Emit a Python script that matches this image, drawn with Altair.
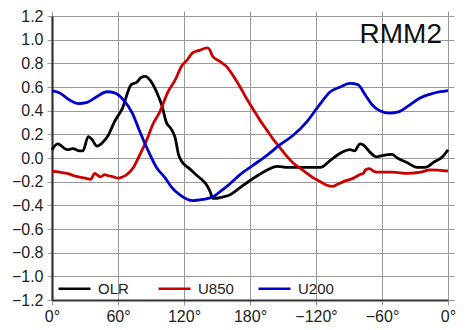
import altair as alt
import pandas as pd

# ---- data ----
olr_lon = [0, 5, 14, 19, 25, 28, 33, 36, 41, 46, 51, 57, 64, 72, 77, 81, 85, 89, 95, 100,
           104, 108, 112, 115, 118, 125, 132, 137, 140, 144, 146, 150, 155, 162, 171, 180,
           192, 205, 214, 223, 232, 244, 253, 262, 271, 275, 280, 283, 289, 295, 300, 309,
           314, 323, 332, 339, 348, 355, 360]
olr_val = [0.07, 0.12, 0.07, 0.08, 0.06, 0.06, 0.18, 0.16, 0.10, 0.13, 0.19, 0.31, 0.42, 0.62,
           0.64, 0.68, 0.69, 0.66, 0.56, 0.44, 0.30, 0.25, 0.17, 0.03, -0.03, -0.09, -0.15,
           -0.19, -0.22, -0.29, -0.34, -0.34, -0.33, -0.31, -0.25, -0.19, -0.12, -0.07, -0.08,
           -0.08, -0.08, -0.08, -0.02, 0.04, 0.07, 0.06, 0.12, 0.11, 0.05, 0.01, 0.02, 0.03,
           0.00, -0.04, -0.08, -0.08, -0.03, 0.01, 0.07]

u850_lon = [0, 7, 14, 20, 24, 30, 35, 39, 42, 44, 48, 51, 56, 60, 64, 68, 74, 80, 86, 92, 98,
            105, 112, 118, 123, 128, 134, 141, 143, 146, 152, 159, 165, 171, 177, 183, 189,
            195, 201, 207, 213, 219, 226, 232, 238, 244, 250, 255, 260, 265, 274, 280, 283,
            285, 289, 292, 295, 310, 323, 335, 344, 360]
u850_val = [-0.11, -0.12, -0.13, -0.15, -0.16, -0.17, -0.18, -0.13, -0.15, -0.16, -0.14, -0.15,
            -0.16, -0.17, -0.16, -0.14, -0.08, 0.03, 0.15, 0.29, 0.39, 0.55, 0.66, 0.78, 0.83,
            0.89, 0.91, 0.93, 0.92, 0.86, 0.82, 0.77, 0.69, 0.60, 0.50, 0.41, 0.32, 0.24, 0.16,
            0.09, 0.02, -0.04, -0.09, -0.13, -0.17, -0.20, -0.23, -0.24, -0.22, -0.20, -0.17,
            -0.14, -0.13, -0.10, -0.09, -0.11, -0.12, -0.12, -0.13, -0.12, -0.10, -0.11]

u200_lon = [0, 7, 16, 24, 32, 41, 50, 57, 65, 73, 80, 87, 95, 103, 109, 116, 121, 128, 137,
            146, 152, 159, 165, 171, 183, 195, 207, 219, 232, 244, 253, 262, 271, 278, 285,
            291, 298, 307, 315, 324, 335, 344, 353, 360]
u200_val = [0.57, 0.55, 0.49, 0.46, 0.47, 0.52, 0.56, 0.55, 0.49, 0.38, 0.22, 0.07, -0.08,
            -0.17, -0.25, -0.31, -0.34, -0.36, -0.35, -0.33, -0.29, -0.24, -0.19, -0.14, -0.06,
            0.02, 0.11, 0.19, 0.31, 0.46, 0.56, 0.60, 0.63, 0.62, 0.53, 0.45, 0.40, 0.38, 0.39,
            0.44, 0.51, 0.54, 0.56, 0.57]

series_names = ["OLR", "U850", "U200"]
series_colors = ["#000000", "#cc0000", "#0000cc"]
x_ticks = [0, 60, 120, 180, 240, 300, 360]
y_ticks = [-1.2, -1.0, -0.8, -0.6, -0.4, -0.2, 0.0, 0.2, 0.4, 0.6, 0.8, 1.0, 1.2]
panel_label = ["RMM2"]

rows = []
for name, lons, vals in zip(series_names, [olr_lon, u850_lon, u200_lon],
                            [olr_val, u850_val, u200_val]):
    for i, (lo, v) in enumerate(zip(lons, vals)):
        rows.append({"series": name, "lon": lo, "val": v, "order": i})
df = pd.DataFrame(rows)

FONT = "Liberation Sans"
x_scale = alt.Scale(domain=[0, 360], nice=False, zero=False)
y_scale = alt.Scale(domain=[-1.2, 1.2], nice=False, zero=False)

label_expr = ("replace(toString(datum.value <= 180 ? datum.value : "
              "(datum.value == 360 ? 0 : datum.value - 360)), '-', '\u2212') + '\u00b0'")

x_axis = alt.Axis(values=x_ticks, labelExpr=label_expr, title=None, grid=True,
                  gridColor="#9a9a9a", gridWidth=1, tickColor="#9a9a9a", tickSize=5,
                  domainColor="#333333", domainWidth=2.2, labelFontSize=16,
                  labelColor="#222222", labelPadding=3, labelFont=FONT,
                  labelFlush=False, labelOverlap=False)
y_axis = alt.Axis(values=y_ticks, format=".1f", title=None, grid=True,
                  gridColor="#9a9a9a", gridWidth=1, tickColor="#9a9a9a", tickSize=5,
                  domainColor="#333333", domainWidth=2.2, labelFontSize=16,
                  labelColor="#222222", labelPadding=4, labelFont=FONT,
                  labelFlush=False, labelOverlap=False)

lines = alt.Chart(df).mark_line(strokeWidth=2.8, interpolate="monotone").encode(
    x=alt.X("lon:Q", scale=x_scale, axis=x_axis),
    y=alt.Y("val:Q", scale=y_scale, axis=y_axis),
    order="order:Q",
    color=alt.Color("series:N",
                    scale=alt.Scale(domain=series_names, range=series_colors),
                    sort=series_names,
                    legend=alt.Legend(title=None, orient="none", legendX=5, legendY=255,
                                      direction="horizontal", symbolType="stroke",
                                      symbolSize=1024, symbolStrokeWidth=2.6,
                                      labelFontSize=15, labelFont=FONT, labelColor="#222222",
                                      labelOffset=6, columnPadding=19, gridAlign="all")),
)

frame = alt.Chart(df).mark_point(opacity=0).encode(
    x=alt.X("lon:Q", scale=x_scale,
            axis=alt.Axis(orient="top", values=x_ticks, labels=False, domain=False,
                          grid=False, tickColor="#9a9a9a", tickSize=5, title=None)),
    y=alt.Y("val:Q", scale=y_scale,
            axis=alt.Axis(orient="right", values=y_ticks, labels=False, domain=False,
                          grid=False, tickColor="#9a9a9a", tickSize=6, title=None)),
)

label = alt.Chart(pd.DataFrame({"t": panel_label})).mark_text(
    align="right", baseline="alphabetic", fontSize=28, font=FONT, color="#111111"
).encode(text="t:N", x=alt.value(390), y=alt.value(27))

chart = alt.layer(lines, frame, label).resolve_axis(
    x="independent", y="independent"
).properties(
    width=396, height=284,
    autosize=alt.AutoSizeParams(type="none"),
    padding={"left": 52, "top": 16, "right": 22, "bottom": 30},
    background="white",
).configure_view(stroke="#000000", strokeWidth=1.5).configure(font=FONT)

chart.save("out.html", embed_options={"renderer": "svg", "actions": False})
